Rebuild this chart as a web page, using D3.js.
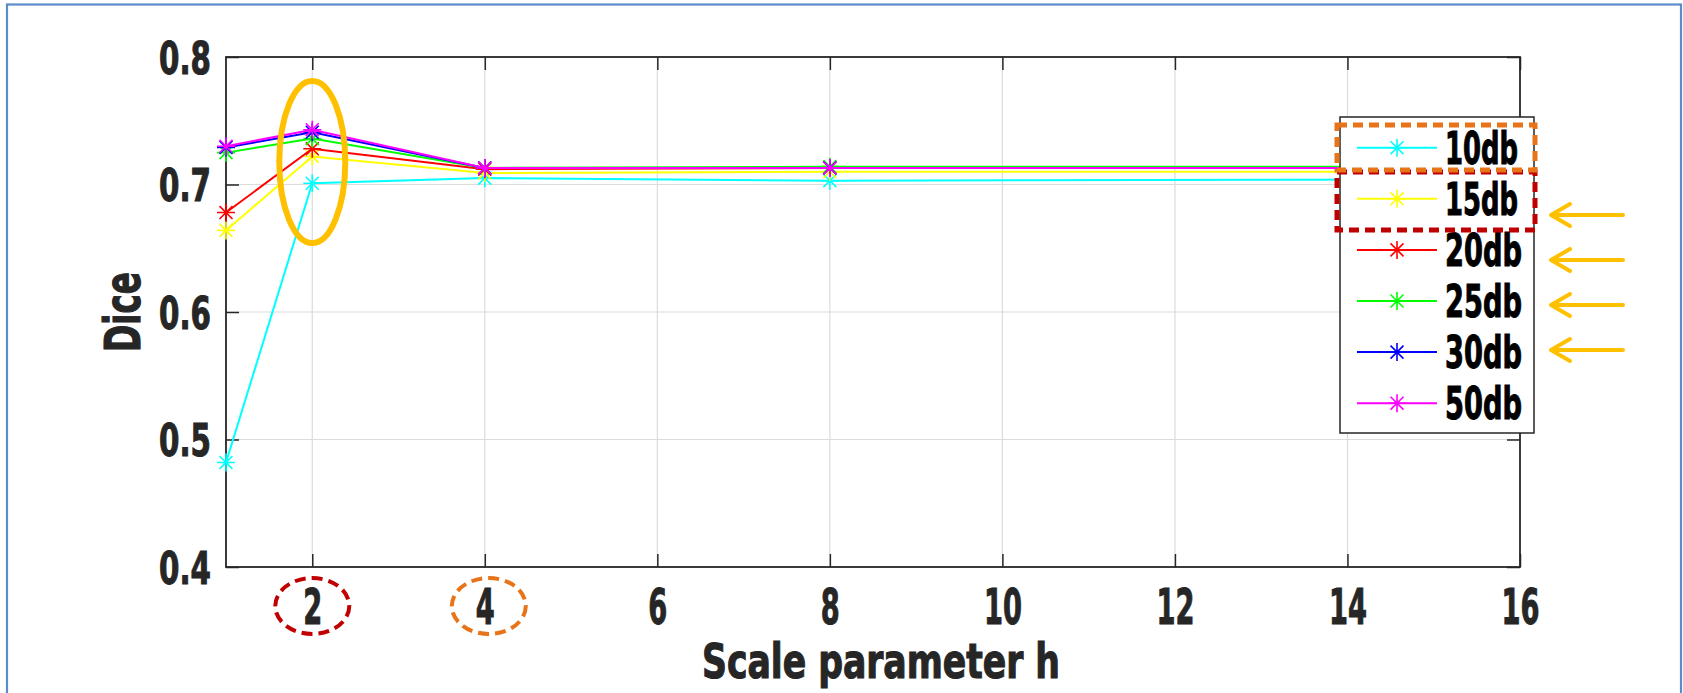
<!DOCTYPE html>
<html>
<head>
<meta charset="utf-8">
<script src="https://cdn.jsdelivr.net/npm/d3@7"></script>
<style>
  body { margin: 0; background: #fff; }
  text { font-family: "Liberation Sans Narrow", "DejaVu Sans Condensed", sans-serif; font-weight: bold; }
</style>
</head>
<body>
<svg id="svg1"></svg>
<script>
// data
const hValues = [1, 2, 4, 8, 16];
const seriesNames = ['10db', '15db', '20db', '25db', '30db', '50db'];
const seriesColors = ['#00ffff', '#ffff00', '#ff0000', '#00ff00', '#0000ff', '#ff00ff'];
const dice10 = [0.482, 0.701, 0.705, 0.703, 0.704];
const dice15 = [0.664, 0.722, 0.709, 0.710, 0.710];
const dice20 = [0.678, 0.728, 0.712, 0.713, 0.713];
const dice25 = [0.725, 0.736, 0.713, 0.714, 0.714];
const dice30 = [0.729, 0.741, 0.713, 0.713, 0.713];
const dice50 = [0.730, 0.743, 0.713, 0.713, 0.713];
const seriesValues = [dice10, dice15, dice20, dice25, dice30, dice50];
const xTicks = [2, 4, 6, 8, 10, 12, 14, 16];
const yTicks = [0.4, 0.5, 0.6, 0.7, 0.8];
const yTickLabels = ['0.4', '0.5', '0.6', '0.7', '0.8'];

const width = 1683, height = 693;
const axisColor = '#262626';
const gold = '#ffc000';

const svg = d3.select('#svg1')
    .attr('width', width)
    .attr('height', height);

// outer blue frame
svg.append('rect')
    .attr('x', 7).attr('y', 4.5)
    .attr('width', 1674).attr('height', 700)
    .attr('fill', 'none')
    .attr('stroke', '#5a8bcd')
    .attr('stroke-width', 2.2);

const x = d3.scaleLinear().domain([1, 16]).range([226, 1520]);
const y = d3.scaleLinear().domain([0.4, 0.8]).range([567, 57]);

// grid
svg.append('g').selectAll('line')
    .data(xTicks.filter(d => d < 16))
    .join('line')
    .attr('x1', d => x(d)).attr('x2', d => x(d))
    .attr('y1', y(0.8)).attr('y2', y(0.4))
    .attr('stroke', '#dcdcdc').attr('stroke-width', 1.2);
svg.append('g').selectAll('line')
    .data(yTicks.filter(d => d > 0.4 && d < 0.8))
    .join('line')
    .attr('x1', x(1)).attr('x2', x(16))
    .attr('y1', d => y(d)).attr('y2', d => y(d))
    .attr('stroke', '#dcdcdc').attr('stroke-width', 1.2);

// axes with inward ticks
const tickLen = 13;
function styleAxis(g) {
    g.select('.domain').remove();
    g.selectAll('.tick line').attr('stroke', axisColor).attr('stroke-width', 1.5);
}
svg.append('g')
    .attr('transform', `translate(0,${y(0.4)})`)
    .call(d3.axisBottom(x).tickValues(xTicks).tickSize(-tickLen).tickSizeOuter(0).tickPadding(0))
    .call(styleAxis)
    .call(g => g.selectAll('.tick text')
        .attr('y', 57)
        .attr('dy', null)
        .attr('font-size', 49)
        .attr('textLength', d => String(d).length * 19)
        .attr('lengthAdjust', 'spacingAndGlyphs')
        .attr('fill', axisColor)
        .attr('stroke', axisColor).attr('stroke-width', 1)
        .style('font-family', null));
svg.append('g')
    .attr('transform', `translate(0,${y(0.8)})`)
    .call(d3.axisTop(x).tickValues(xTicks).tickSize(-tickLen).tickFormat(''))
    .call(styleAxis);
svg.append('g')
    .attr('transform', `translate(${x(1)},0)`)
    .call(d3.axisLeft(y).tickValues(yTicks).tickSize(-tickLen).tickSizeOuter(0)
        .tickFormat((d, i) => yTickLabels[i]))
    .call(styleAxis)
    .call(g => g.selectAll('.tick text')
        .attr('x', -15)
        .attr('dy', '0.36em')
        .attr('font-size', 45)
        .attr('textLength', 52)
        .attr('lengthAdjust', 'spacingAndGlyphs')
        .attr('fill', axisColor)
        .attr('stroke', axisColor).attr('stroke-width', 1)
        .style('font-family', null));
svg.append('g')
    .attr('transform', `translate(${x(16)},0)`)
    .call(d3.axisRight(y).tickValues(yTicks).tickSize(-tickLen).tickFormat(''))
    .call(styleAxis);

svg.append('rect')
    .attr('x', x(1)).attr('y', y(0.8))
    .attr('width', x(16) - x(1)).attr('height', y(0.4) - y(0.8))
    .attr('fill', 'none')
    .attr('stroke', axisColor).attr('stroke-width', 1.8);

// axis titles
svg.append('text')
    .attr('x', 881).attr('y', 678)
    .attr('text-anchor', 'middle')
    .attr('font-size', 48)
    .attr('textLength', 358).attr('lengthAdjust', 'spacingAndGlyphs')
    .attr('fill', axisColor).attr('stroke', axisColor).attr('stroke-width', 1.1)
    .text('Scale parameter h');
svg.append('text')
    .attr('transform', 'translate(140,312) rotate(-90)')
    .attr('text-anchor', 'middle')
    .attr('font-size', 50)
    .attr('textLength', 80).attr('lengthAdjust', 'spacingAndGlyphs')
    .attr('fill', axisColor).attr('stroke', axisColor).attr('stroke-width', 1.1)
    .text('Dice');

// asterisk marker like matlab '*'
function asterisk(r) {
    const d = r * 0.72;
    return `M${-r},0L${r},0M0,${-r}L0,${r}M${-d},${-d}L${d},${d}M${-d},${d}L${d},${-d}`;
}

const line = d3.line()
    .x((d, i) => x(hValues[i]))
    .y(d => y(d));

seriesValues.forEach((vals, s) => {
    const g = svg.append('g');
    g.append('path')
        .datum(vals)
        .attr('d', line)
        .attr('fill', 'none')
        .attr('stroke', seriesColors[s])
        .attr('stroke-width', 2);
    g.selectAll('path.mk')
        .data(vals)
        .join('path')
        .attr('class', 'mk')
        .attr('transform', (d, i) => `translate(${x(hValues[i])},${y(d)})`)
        .attr('d', asterisk(9))
        .attr('stroke', seriesColors[s])
        .attr('stroke-width', 1.6);
});

// legend
const legend = svg.append('g');
legend.append('rect')
    .attr('x', 1340).attr('y', 117)
    .attr('width', 194).attr('height', 316)
    .attr('fill', '#fff')
    .attr('stroke', axisColor).attr('stroke-width', 1.5);
seriesNames.forEach((name, i) => {
    const cy = 147.7 + i * 51.1;
    legend.append('line')
        .attr('x1', 1357).attr('x2', 1437)
        .attr('y1', cy).attr('y2', cy)
        .attr('stroke', seriesColors[i]).attr('stroke-width', 2);
    legend.append('path')
        .attr('transform', `translate(1397,${cy})`)
        .attr('d', asterisk(9))
        .attr('stroke', seriesColors[i]).attr('stroke-width', 1.6);
    legend.append('text')
        .attr('x', 1445).attr('y', cy + 16)
        .attr('font-size', 44)
        .attr('textLength', i < 2 ? 73 : 77).attr('lengthAdjust', 'spacingAndGlyphs')
        .attr('fill', '#000').attr('stroke', '#000').attr('stroke-width', 1)
        .text(name);
});

// annotations
const ann = svg.append('g').attr('fill', 'none');
ann.append('ellipse')
    .attr('cx', x(2)).attr('cy', 162)
    .attr('rx', 33).attr('ry', 81)
    .attr('stroke', gold).attr('stroke-width', 6);
ann.append('ellipse')
    .attr('cx', x(2)).attr('cy', 606)
    .attr('rx', 37).attr('ry', 28)
    .attr('stroke', '#c00000').attr('stroke-width', 4)
    .attr('stroke-dasharray', '11,6');
ann.append('ellipse')
    .attr('cx', x(4) + 4).attr('cy', 606)
    .attr('rx', 37).attr('ry', 28)
    .attr('stroke', '#e8741a').attr('stroke-width', 4)
    .attr('stroke-dasharray', '11,6');
ann.append('rect')
    .attr('x', 1337).attr('y', 172)
    .attr('width', 198).attr('height', 58)
    .attr('stroke', '#c00000').attr('stroke-width', 5)
    .attr('stroke-dasharray', '10,6');
ann.append('rect')
    .attr('x', 1337).attr('y', 125)
    .attr('width', 198).attr('height', 45)
    .attr('stroke', '#e8741a').attr('stroke-width', 5)
    .attr('stroke-dasharray', '10,6');

const arrowY = [215, 260, 305, 350];
ann.selectAll('path.arrow')
    .data(arrowY)
    .join('path')
    .attr('class', 'arrow')
    .attr('d', d => `M1623,${d}L1551,${d}M1570,${d - 11}L1551,${d}L1570,${d + 11}`)
    .attr('stroke', gold).attr('stroke-width', 4)
    .attr('stroke-linecap', 'round').attr('stroke-linejoin', 'round');
</script>
</body>
</html>
